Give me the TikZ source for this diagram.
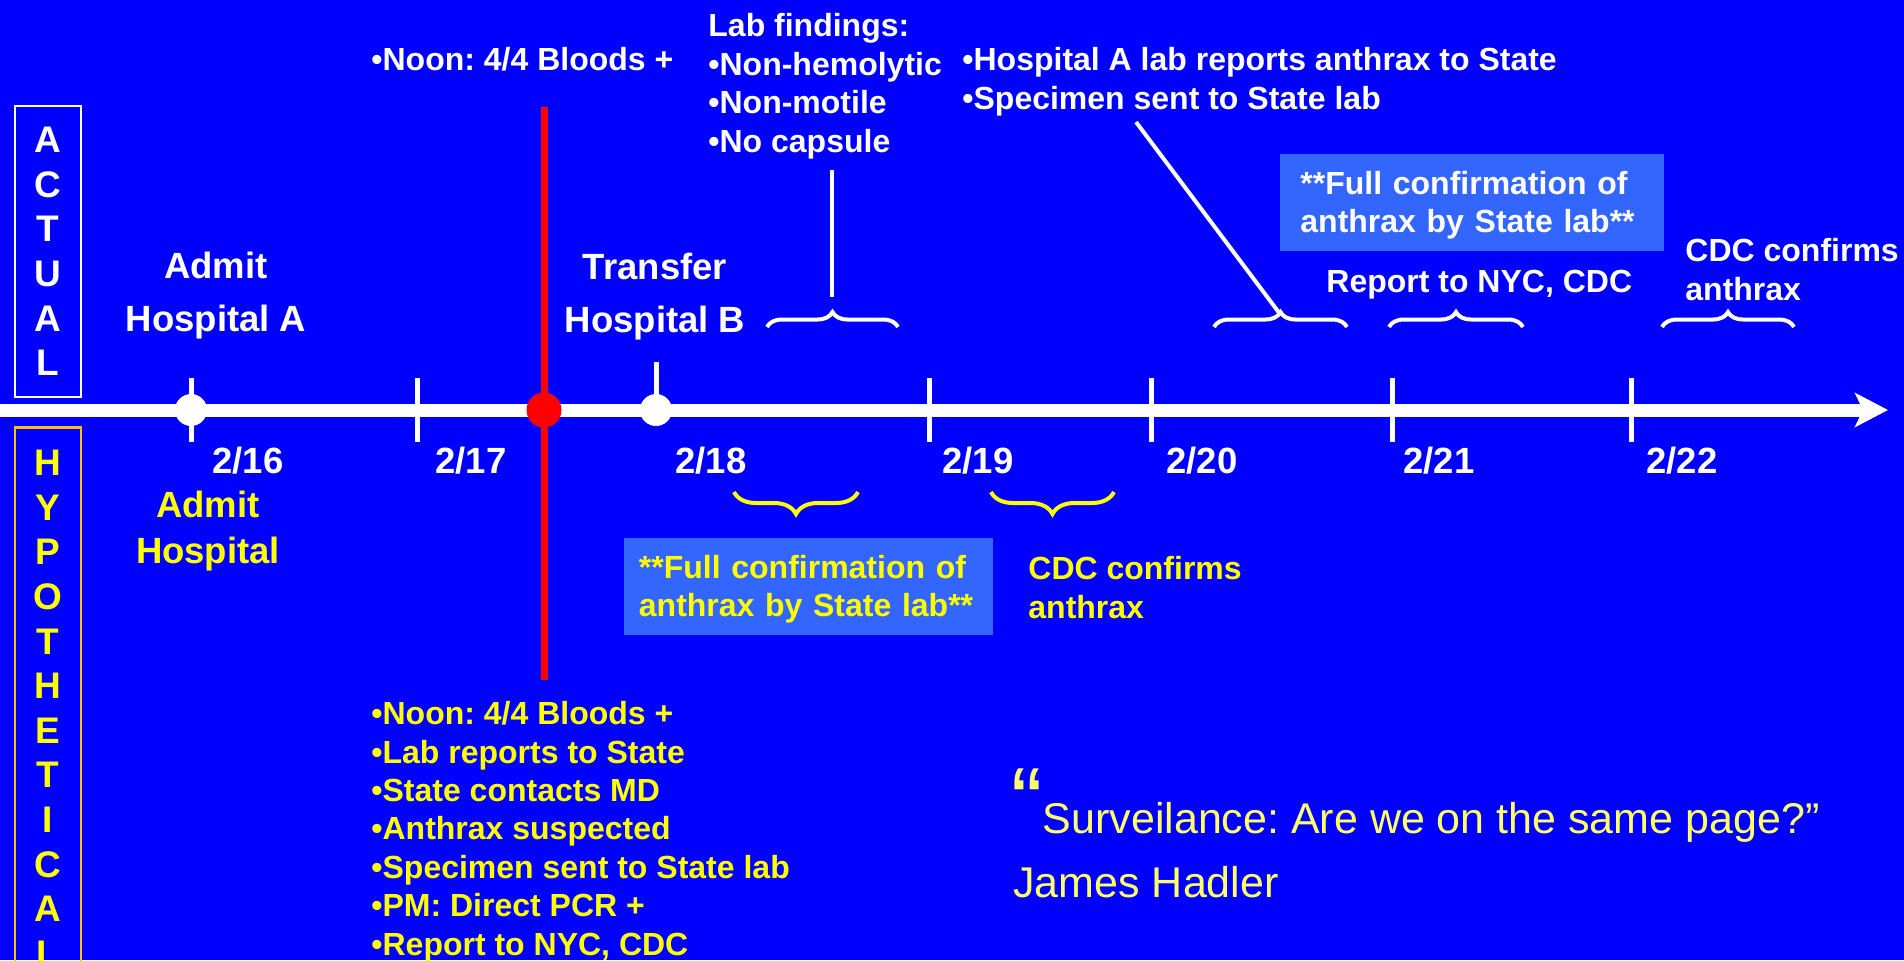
\documentclass[tikz,border=0pt]{standalone}
\usepackage{fontspec}
\setmainfont{Liberation Sans}
\usepackage{tikz}
\usetikzlibrary{arrows.meta,decorations.pathreplacing,positioning}
\frenchspacing

\definecolor{slideblue}{RGB}{0,0,255}
\definecolor{boxblue}{RGB}{51,102,255}
\definecolor{hypoyellow}{RGB}{255,255,0}
\definecolor{quoteyellow}{RGB}{255,255,102}
\definecolor{hypoframe}{RGB}{255,192,0}

\tikzset{
  bullets/.style={anchor=north west, inner sep=0pt, align=left, font=\bfseries\fontsize{16}{19.25}\selectfont},
  event/.style={anchor=north, inner sep=0pt, align=center, font=\bfseries\fontsize{18.25}{26.5}\selectfont},
  datelbl/.style={anchor=base, inner sep=0pt, text=white, font=\bfseries\fontsize{18.25}{20}\selectfont},
  stackbox/.style={anchor=north, inner sep=0pt, align=center, minimum width=33pt, font=\bfseries\fontsize{18.5}{22.3}\selectfont},
  confbox/.style={anchor=north west, fill=boxblue, inner xsep=10pt, inner ysep=0pt, minimum height=48.5pt, align=left, font=\bfseries\fontsize{16}{19.25}\selectfont},
  quotetxt/.style={anchor=base west, inner sep=0pt, text=quoteyellow, font=\fontsize{21.5}{26}\selectfont},
  daytick/.style={white, line width=2.5pt},
  daydot/.style={circle, fill=white, inner sep=0pt, minimum size=16pt},
  timeline/.style={white, line width=6.5pt, -{Stealth[length=16.5pt, width=17pt, inset=4pt]}},
  leader/.style={white, line width=2pt},
  curly/.style={white, line width=2pt, decorate, decoration={brace, amplitude=7.5pt}},
  ycurly/.style={hypoyellow, line width=2pt, decorate, decoration={brace, amplitude=11pt}}
}

\begin{document}
\begin{tikzpicture}[x=0.5pt, y=-0.5pt]
\useasboundingbox (0,0) rectangle (1904,960);
\clip (0,0) rectangle (1904,960);
\fill[slideblue] (0,0) rectangle (1904,960);

\node[stackbox, draw=white, line width=1pt, text=white, minimum height=145.5pt] (actual) at (48,105) {A\\C\\T\\U\\A\\L};
\node[stackbox, draw=hypoframe, line width=1.25pt, text=hypoyellow, minimum height=281pt] (hypo) at (48,426) {H\\Y\\P\\O\\T\\H\\E\\T\\I\\C\\A\\L};

\coordinate (axisstart) at (0,410);
\coordinate (axisend) at (1888,410);
\draw[timeline] (axisstart) -- (axisend);
\foreach \x in {191,417,929,1151,1392,1631}
  \draw[daytick] (\x,378) -- (\x,442);
\draw[daytick] (656,362) -- (656,410);

\coordinate (redtop) at (544,107);
\coordinate (redbot) at (544,680);
\draw[red, line width=3.5pt] (redtop) -- (redbot);

\node[daydot] (admitdot) at (191,410) {};
\node[daydot] (transferdot) at (656,410) {};
\node[daydot, fill=red, minimum size=17.5pt] (bloodsdot) at (544,410) {};

\foreach \x/\d in {248/16,471/17,711/18,978/19,1202/20,1439/21,1682/22}
  \node[datelbl] (date\d) at (\x,473) {2/\d};

\node[bullets, text=white] (noontop) at (371,47) {•Noon: 4/4 Bloods +};
\node[bullets, text=white] (labfind) at (708,13) {Lab findings:\\•Non-hemolytic\\•Non-motile\\•No capsule};
\node[bullets, text=white] (hospalab) at (962,47) {•Hospital A lab reports anthrax to State\\•Specimen sent to State lab};
\node[event, text=white] (admitA) at (216,252) {Admit\\Hospital A};
\node[event, text=white] (transferB) at (655,253) {Transfer\\Hospital B};
\node[confbox, text=white, text width=172pt] (stateconf) at (1280,154) {\rule{0pt}{14pt}**Full confirmation of\\anthrax by State lab**};
\node[bullets, text=white] (reportnyc) at (1326,270) {Report to NYC, CDC};
\node[bullets, text=white] (cdcconf) at (1685,238) {CDC confirms\\anthrax};

\foreach \a/\b in {767/898,1214/1347,1389/1523,1662/1794}
  \draw[curly] (\a,327) -- (\b,327);
\coordinate (labhead) at (832,170);
\coordinate (labfoot) at (832,297);
\draw[leader] (labhead) -- (labfoot);
\coordinate (spechead) at (1136,122);
\coordinate (sendtip) at (1280,314);
\draw[leader] (spechead) -- (sendtip);

\node[event, text=hypoyellow, font=\bfseries\fontsize{18.25}{23}\selectfont] (admitY) at (208,491) {Admit\\Hospital};
\foreach \a/\b in {734/858,991/1114}
  \draw[ycurly] (\b,492) -- (\a,492);
\node[confbox, text=hypoyellow, text width=170pt, inner xsep=7.25pt] (hypoconf) at (624,538) {\rule{0pt}{14pt}**Full confirmation of\\anthrax by State lab**};
\node[bullets, text=hypoyellow] (hypocdc) at (1028,556) {CDC confirms\\anthrax};
\node[bullets, text=hypoyellow, font=\bfseries\fontsize{16}{19.2}\selectfont] (hypolist) at (371,701) {•Noon: 4/4 Bloods +\\•Lab reports to State\\•State contacts MD\\•Anthrax suspected\\•Specimen sent to State lab\\•PM: Direct PCR +\\•Report to NYC, CDC};

\node[quotetxt] (quote) at (1011,833) {{\fontsize{47}{47}\selectfont “}Surveilance: Are we on the same page?”};
\node[quotetxt] (author) at (1013,897) {James Hadler};
\end{tikzpicture}
\end{document}
